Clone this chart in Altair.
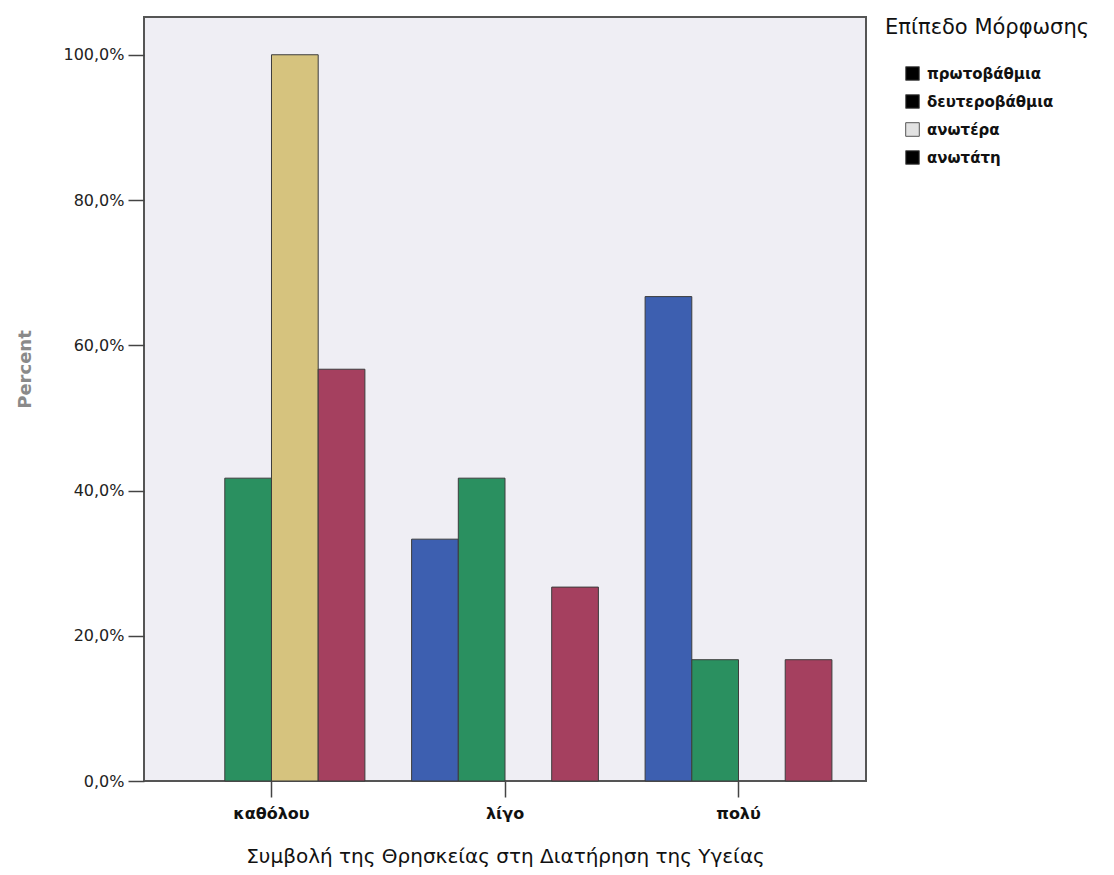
import altair as alt
import pandas as pd

# Contribution of religion to maintaining health, by education level (% within level)
categories = ["καθόλου", "λίγο", "πολύ"]
education = ["πρωτοβάθμια", "δευτεροβάθμια", "ανωτέρα", "ανωτάτη"]
primary = [0.0, 33.3, 66.7]
secondary = [41.7, 41.7, 16.7]
higher = [100.0, 0.0, 0.0]
university = [56.7, 26.7, 16.7]

bar_colors = ["#3d5fb0", "#2a9060", "#d6c37e", "#a5405f"]
legend_swatches = ["#000000", "#000000", "#e2e2e2", "#000000"]

rows = []
for level, colour, series in zip(education, bar_colors, [primary, secondary, higher, university]):
    for cat, val in zip(categories, series):
        rows.append({"cat": cat, "edu": level, "barcolor": colour, "pct": val})
df = pd.DataFrame(rows)
df = df[df["pct"] > 0]

FONT = "DejaVu Sans"

x_enc = alt.X(
    "cat:N",
    sort=categories,
    scale=alt.Scale(paddingInner=0.2, paddingOuter=0.146),
    axis=alt.Axis(
        title="Συμβολή της Θρησκείας στη Διατήρηση της Υγείας",
        labelAngle=0,
        labelFont=FONT,
        labelFontWeight="bold",
        labelFontSize=16,
        labelColor="#111111",
        labelPadding=8,
        tickSize=16,
        tickColor="#444444",
        tickWidth=1.5,
        domain=False,
        titleFont=FONT,
        titleFontWeight="normal",
        titleFontSize=20,
        titleColor="#111111",
        titleBaseline="middle",
        titleY=75,
    ),
)

y_enc = alt.Y(
    "pct:Q",
    scale=alt.Scale(domain=[0, 105.2], nice=False),
    axis=alt.Axis(
        title="Percent",
        values=[0, 20, 40, 60, 80, 100],
        labelExpr="replace(format(datum.value, '.1f'), '.', ',') + '%'",
        labelFont=FONT,
        labelFontSize=16,
        labelColor="#222222",
        labelPadding=4,
        tickSize=16,
        tickColor="#444444",
        tickWidth=1.5,
        grid=False,
        domain=False,
        titleFont=FONT,
        titleFontWeight="bold",
        titleFontSize=18,
        titleColor="#8a8a8a",
        titleAngle=270,
        titleAlign="center",
        titleBaseline="middle",
        titleX=-119,
        titleY=352,
    ),
)

x_off = alt.XOffset("edu:N", sort=education, scale=alt.Scale(domain=education, paddingInner=0, paddingOuter=0))

# bars take their colour straight from the data (no scale, no legend)
bars = alt.Chart(df).mark_bar(stroke="#3c3c3c", strokeWidth=1).encode(
    x=x_enc,
    xOffset=x_off,
    y=y_enc,
    fill=alt.Fill("barcolor:N", scale=None),
)

# zero-height layer that only carries the legend swatches
swatches = alt.Chart(df).mark_bar().encode(
    x=alt.X("cat:N", sort=categories),
    xOffset=x_off,
    y=alt.datum(0),
    color=alt.Color(
        "edu:N",
        scale=alt.Scale(domain=education, range=legend_swatches),
        legend=alt.Legend(
            title="Επίπεδο Μόρφωσης",
            orient="right",
            offset=19,
            padding=0,
            titleFont=FONT,
            titleFontWeight="normal",
            titleFontSize=21,
            titleColor="#111111",
            titlePadding=28,
            titleLimit=400,
            labelFont=FONT,
            labelFontWeight="bold",
            labelFontSize=15,
            labelColor="#111111",
            labelOffset=7,
            labelLimit=300,
            symbolType="square",
            symbolSize=185,
            symbolOffset=20,
            symbolStrokeColor="#555555",
            symbolStrokeWidth=1,
            rowPadding=9,
        ),
    ),
)

chart = (
    alt.layer(bars, swatches)
    .properties(
        width=722,
        height=764,
        padding={"left": 16, "top": 17, "right": 5, "bottom": 5},
        background="white",
    )
    .configure_view(fill="#efeef4", stroke="#555555", strokeWidth=2)
)

chart.save("out.html", embed_options={"renderer": "svg", "actions": False})
